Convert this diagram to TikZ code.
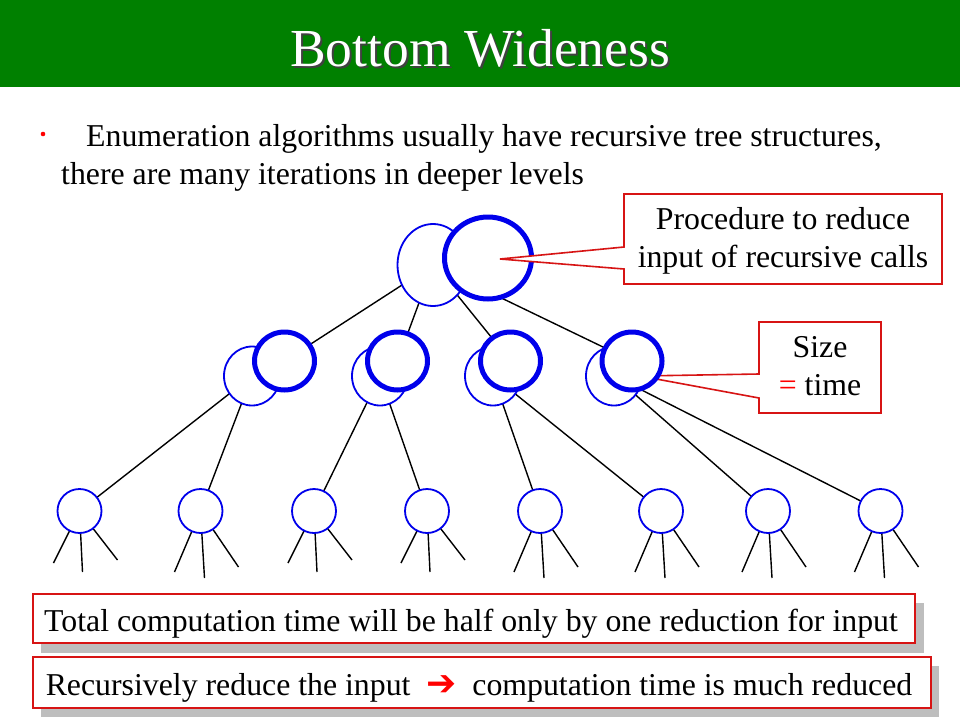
\documentclass[tikz,border=0pt]{standalone}
\usepackage{fontspec}
\setmainfont{Liberation Serif}
\newfontfamily\dejavu{DejaVu Sans}
\usetikzlibrary{backgrounds,shapes.geometric,calc}
\definecolor{titlegreen}{RGB}{0,128,0}
\definecolor{nodeblue}{RGB}{0,0,235}
\definecolor{boxred}{RGB}{215,20,20}
\definecolor{shadowgray}{RGB}{190,190,190}
\tikzset{
  thinnode/.style={ellipse, draw=nodeblue, line width=1.8pt, fill=white, inner sep=0pt},
  thicknode/.style={ellipse, draw=nodeblue, line width=5pt, fill=white, inner sep=0pt},
  leafnode/.style={circle, draw=nodeblue, line width=1.8pt, fill=white, inner sep=0pt, minimum size=44pt},
  edge/.style={draw=black, line width=1.4pt},
  calloutbox/.style={draw=boxred, line width=1.6pt, fill=white},
  bodytext/.style={inner sep=0pt, font=\fontsize{31.8}{38}\selectfont},
}
\begin{document}
\begin{tikzpicture}[x=1pt,y=-1pt]
\useasboundingbox (0,0) rectangle (960,720);
\begin{pgfonlayer}{background}
\fill[white] (0,0) rectangle (960,720);
\end{pgfonlayer}
% title bar
\fill[titlegreen] (0,0) rectangle (960,87);
\node[inner sep=0pt, anchor=base, text=black!75, font=\fontsize{53.5}{54}\selectfont] at (482,68) {Bottom Wideness};
\node (title) [inner sep=0pt, anchor=base, text=white, font=\fontsize{53.5}{54}\selectfont] at (480,66) {Bottom Wideness};
% bullet text
\fill[red] (43,134) circle (2.3);
\node (line1) [bodytext, anchor=base west] at (86,146) {Enumeration algorithms usually have recursive tree structures,};
\node (line2) [bodytext, anchor=base west] at (61,184) {there are many iterations in deeper levels};

% callout 2 (under circles)
\path[calloutbox] (759,322) -- (881,322) -- (881,413) -- (759,413) -- (759,398) -- (640,376) -- (759,374) -- cycle;
\node (size1) [bodytext, anchor=base] at (820,357) {Size};
\node (size2) [bodytext, anchor=base] at (820,395) {\textcolor{red}{=} time};

% top level
\node (t1) [thinnode, minimum width=71pt, minimum height=82pt] at (433,265) {};
\node (t2) [thicknode, minimum width=87pt, minimum height=82pt] at (488,258) {};
% second level
\foreach \i/\xa/\xb in {1/252/284.5, 2/380/397.5, 3/493/510.5, 4/614/632} {
  \node (a\i) [thinnode, minimum width=56pt, minimum height=59pt] at (\xa,376) {};
  \node (b\i) [thicknode, minimum width=60pt, minimum height=58pt] at (\xb,361) {};
}
% third level
\foreach \i/\x in {1/79.5, 2/200.5, 3/314, 4/427, 5/540, 6/661, 7/768, 8/880.5} {
  \node (c\i) [leafnode] at (\x,511) {};
}
% leaf stubs ends
\foreach \i in {1,3,4} {
  \coordinate (l\i) at ($(c\i.center)+(-26,52)$);
  \coordinate (m\i) at ($(c\i.center)+(3,61)$);
  \coordinate (r\i) at ($(c\i.center)+(38,49)$);
}
\foreach \i in {2,5,6,7,8} {
  \coordinate (l\i) at ($(c\i.center)+(-26,61)$);
  \coordinate (m\i) at ($(c\i.center)+(4,67)$);
  \coordinate (r\i) at ($(c\i.center)+(38,56)$);
}
\begin{pgfonlayer}{background}
  \foreach \i in {1,2,3,4} { \draw[edge] (t1.center) -- (b\i.center); }
  \draw[edge] (a1.center) -- (c1.center);
  \draw[edge] (a1.center) -- (c2.center);
  \draw[edge] (a2.center) -- (c3.center);
  \draw[edge] (a2.center) -- (c4.center);
  \draw[edge] (a3.center) -- (c5.center);
  \draw[edge] (a3.center) -- (c6.center);
  \draw[edge] (a4.center) -- (c7.center);
  \draw[edge] (a4.center) -- (c8.center);
  \foreach \i in {1,...,8} {
    \draw[edge] (c\i.center) -- (l\i);
    \draw[edge] (c\i.center) -- (m\i);
    \draw[edge] (c\i.center) -- (r\i);
  }
\end{pgfonlayer}

% callout 1 (over top circle)
\path[calloutbox] (624,194) -- (942,194) -- (942,284) -- (624,284) -- (624,269) -- (500,259) -- (624,247) -- cycle;
\node (proc1) [bodytext, anchor=base] at (783,229) {Procedure to reduce};
\node (proc2) [bodytext, anchor=base] at (783,267) {input of recursive calls};

% bottom boxes
\fill[shadowgray] (41,603) rectangle (924,653);
\path[calloutbox] (33,594) rectangle (915,643);
\node (total) [bodytext, anchor=base] at (471,631) {Total computation time will be half only by one reduction for input};
\fill[shadowgray] (41,666) rectangle (939,717);
\path[calloutbox] (33,657) rectangle (931,708);
\node (recur) [bodytext, anchor=base] at (479,695) {Recursively reduce the input \ {\dejavu\fontsize{36}{36}\selectfont\textcolor{red}{➔}}\ \ computation time is much reduced};
\end{tikzpicture}
\end{document}
